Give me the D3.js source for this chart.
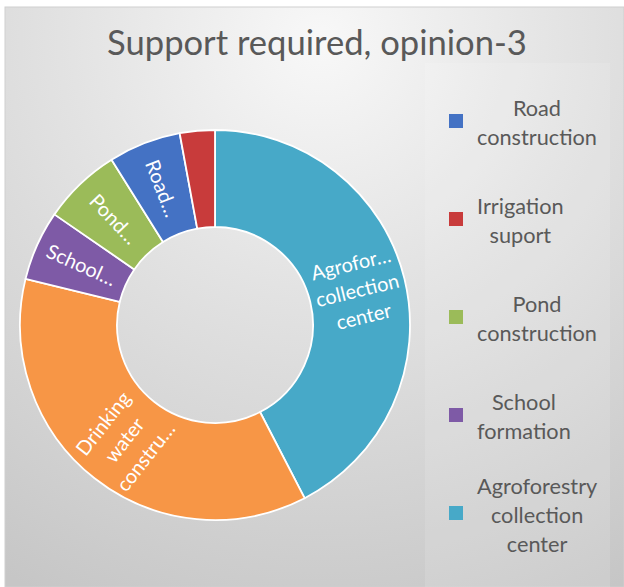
<!DOCTYPE html>
<html><head><meta charset="utf-8">
<script src="https://cdn.jsdelivr.net/npm/d3@7"></script>
<style>html,body{margin:0;padding:0;background:#fff;}svg{display:block;}</style>
</head><body>
<svg id="chart" width="624" height="587"></svg>
<script>
const title = "Support required, opinion-3";
const categories = ["Road construction","Irrigation suport","Pond construction","School formation","Agroforestry collection center","Drinking water construction"];
const values = [6.0, 2.9, 6.5, 5.8, 42.4, 36.4];
const colors = ["#4472C4","#C83B3B","#9BBB59","#7E5AA6","#47A9C8","#F79646"];
const pieOrder = [4, 5, 3, 2, 0, 1];
const sliceLabels = [["Road…"], [], ["Pond…"], ["School…"], ["Agrofor…","collection","center"], ["Drinking","water","constru…"]];
const legendIndex = [0, 1, 2, 3, 4];
const legendLines = [["Road","construction"],["Irrigation","suport"],["Pond","construction"],["School","formation"],["Agroforestry","collection","center"]];

const FONT = "Lato, 'Open Sans', sans-serif";
const svg = d3.select("#chart");
const defs = svg.append("defs");
const bg = defs.append("radialGradient").attr("id","bg")
  .attr("gradientUnits","userSpaceOnUse").attr("cx",320).attr("cy",40).attr("r",620);
bg.append("stop").attr("offset","0%").attr("stop-color","#f8f8f8");
bg.append("stop").attr("offset","40%").attr("stop-color","#e3e3e3");
bg.append("stop").attr("offset","100%").attr("stop-color","#c6c6c6");

svg.append("rect").attr("x",5).attr("y",7).attr("width",619).attr("height",580)
  .attr("fill","url(#bg)").attr("stroke","#cfcfcf").attr("stroke-width",1);
// legend panel
svg.append("rect").attr("x",425).attr("y",63).attr("width",185).attr("height",524)
  .attr("fill","#ffffff").attr("opacity",0.12);

// title
const measure = svg.append("text").attr("font-family",FONT).attr("visibility","hidden");
function textW(str, size){ measure.attr("font-size",size).text(str); return measure.node().getComputedTextLength(); }
const titleSize = 30 * 420 / textW(title, 30);
svg.append("text").attr("x",317).attr("y",55).attr("text-anchor","middle")
  .attr("font-family",FONT).attr("font-size",titleSize).attr("fill","#595959").text(title);

// donut
const cx = 215, cy = 325, rOut = 195, rIn = 98;
const g = svg.append("g").attr("transform",`translate(${cx},${cy})`);
const pie = d3.pie().sort(null).value(i => values[i]);
const arcs = pie(pieOrder);
const arc = d3.arc().innerRadius(rIn).outerRadius(rOut);
g.selectAll("path.slice").data(arcs).join("path").attr("class","slice")
  .attr("d",arc).attr("fill",d => colors[d.data])
  .attr("stroke","#ffffff").attr("stroke-width",1.8).attr("stroke-linejoin","round");

const labelSize = 18 * 85 / textW("collection", 18);
const lineH = labelSize * 1.35;
arcs.forEach(d => {
  const lines = sliceLabels[d.data];
  if (!lines.length) return;
  const mid = (d.startAngle + d.endAngle) / 2;
  const deg = mid * 180 / Math.PI;
  const rot = deg < 180 ? deg - 90 : deg - 270;
  const c = arc.centroid(d);
  const t = g.append("text").attr("transform",`translate(${c[0]},${c[1]}) rotate(${rot})`)
    .attr("text-anchor","middle").attr("font-family",FONT).attr("font-size",labelSize)
    .attr("fill","#ffffff");
  lines.forEach((ln, k) => {
    t.append("tspan").attr("x",0).attr("y",(k - (lines.length - 1) / 2) * lineH).attr("dy","0.35em").text(ln);
  });
});

// legend
const legSize = 20 * 120 / textW("construction", 20);
const legTop = 121, legStep = 98, legTextX = 477, lineStep = 29;
legendIndex.forEach((ci, k) => {
  const yc = legTop + k * legStep;
  svg.append("rect").attr("x",449).attr("y",yc - 7).attr("width",14).attr("height",14)
    .attr("fill",colors[ci]);
  const lines = legendLines[k];
  const maxW = d3.max(lines, s => textW(s, legSize));
  const t = svg.append("text").attr("font-family",FONT).attr("font-size",legSize)
    .attr("fill","#595959").attr("text-anchor","middle");
  lines.forEach((ln, j) => {
    t.append("tspan").attr("x",legTextX + maxW / 2)
      .attr("y",yc + 2 + (j - (lines.length - 1) / 2) * lineStep).attr("dy","0.35em").text(ln);
  });
});
measure.remove();
</script>
</body></html>
